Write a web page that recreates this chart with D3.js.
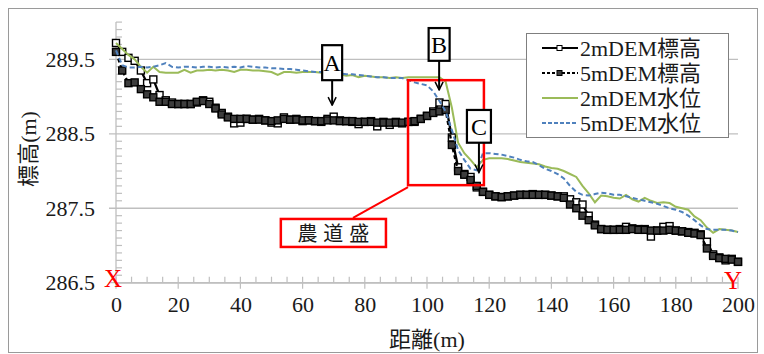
<!DOCTYPE html>
<html>
<head>
<meta charset="utf-8">
<script src="https://cdn.jsdelivr.net/npm/d3@7"></script>
<style>
body { margin: 0; background: #fff; }
text { font-family: "Liberation Serif", "Times New Roman", "Noto Sans CJK JP", serif; }
</style>
</head>
<body>
<div id="chart"></div>
<script>
// distance along the profile (m), every 2 m
const distance = d3.range(0, 201, 2);

// 2mDEM elevation (open squares)
const elev2m = [
	289.72, 289.60, 289.52, 289.48, 289.35, 289.18, 289.23, 289.02, 288.95, 288.92,
	288.90, 288.90, 288.90, 288.92, 288.95, 288.93, 288.85, 288.78, 288.73, 288.64,
	288.65, 288.70, 288.69, 288.70, 288.68, 288.65, 288.64, 288.72, 288.69, 288.70,
	288.67, 288.68, 288.67, 288.66, 288.70, 288.73, 288.68, 288.67, 288.66, 288.63,
	288.66, 288.67, 288.60, 288.66, 288.62, 288.66, 288.64, 288.66, 288.66, 288.70,
	288.74, 288.80, 288.92, 288.90, 288.45, 288.05, 287.96, 287.92, 287.78, 287.72,
	287.68, 287.66, 287.65, 287.66, 287.67, 287.68, 287.68, 287.69, 287.68, 287.68,
	287.67, 287.66, 287.66, 287.62, 287.58, 287.55, 287.40, 287.28, 287.22, 287.21,
	287.21, 287.22, 287.25, 287.23, 287.22, 287.22, 287.12, 287.20, 287.25, 287.26,
	287.20, 287.19, 287.18, 287.17, 287.15, 287.05, 286.88, 286.84, 286.80, 286.82,
	286.78
];

// 5mDEM elevation (filled squares)
const elev5m = [
	289.60, 289.35, 289.18, 289.19, 289.10, 289.03, 288.99, 288.93, 288.93, 288.90,
	288.90, 288.90, 288.90, 288.93, 288.94, 288.90, 288.84, 288.76, 288.72, 288.70,
	288.70, 288.70, 288.69, 288.69, 288.68, 288.67, 288.68, 288.70, 288.69, 288.69,
	288.68, 288.68, 288.67, 288.67, 288.68, 288.68, 288.67, 288.67, 288.67, 288.66,
	288.66, 288.66, 288.65, 288.65, 288.65, 288.65, 288.65, 288.66, 288.67, 288.70,
	288.74, 288.78, 288.80, 288.82, 288.35, 288.00, 287.95, 287.88, 287.80, 287.72,
	287.68, 287.66, 287.65, 287.66, 287.67, 287.68, 287.68, 287.68, 287.68, 287.68,
	287.67, 287.66, 287.64, 287.55, 287.50, 287.40, 287.34, 287.27, 287.22, 287.21,
	287.21, 287.21, 287.21, 287.22, 287.21, 287.21, 287.20, 287.20, 287.20, 287.21,
	287.20, 287.19, 287.17, 287.16, 287.14, 286.96, 286.86, 286.83, 286.82, 286.81,
	286.78
];

// 2mDEM water level (green)
const water2m = [
	289.72, 289.64, 289.56, 289.50, 289.40, 289.32, 289.40, 289.33, 289.32, 289.32,
	289.32, 289.36, 289.32, 289.35, 289.35, 289.36, 289.35, 289.36, 289.35, 289.33,
	289.36, 289.36, 289.35, 289.35, 289.34, 289.33, 289.29, 289.33, 289.33, 289.32,
	289.33, 289.33, 289.33, 289.32, 289.30, 289.31, 289.30, 289.28, 289.29, 289.26,
	289.28, 289.27, 289.26, 289.26, 289.25, 289.26, 289.25, 289.26, 289.26, 289.26,
	289.26, 289.26, 289.26, 289.20, 288.85, 288.38, 288.24, 288.15, 288.05, 288.15,
	288.17, 288.17, 288.17, 288.16, 288.14, 288.12, 288.11, 288.10, 288.09, 288.06,
	288.04, 288.03, 288.00, 287.96, 287.92, 287.80, 287.70, 287.58, 287.67, 287.66,
	287.64, 287.63, 287.68, 287.62, 287.59, 287.64, 287.60, 287.57, 287.58, 287.57,
	287.52, 287.50, 287.48, 287.39, 287.34, 287.24, 287.17, 287.22, 287.21, 287.20,
	287.18
];

// 5mDEM water level (blue dashed)
const water5m = [
	289.62, 289.42, 289.39, 289.39, 289.40, 289.39, 289.40, 289.42, 289.45, 289.40,
	289.39, 289.40, 289.40, 289.39, 289.40, 289.40, 289.39, 289.40, 289.39, 289.40,
	289.39, 289.41, 289.40, 289.39, 289.39, 289.38, 289.38, 289.37, 289.37, 289.36,
	289.35, 289.34, 289.33, 289.33, 289.32, 289.31, 289.31, 289.30, 289.30, 289.29,
	289.28, 289.27, 289.26, 289.26, 289.25, 289.25, 289.25, 289.22, 289.19, 289.17,
	289.15, 289.07, 288.94, 288.80, 288.55, 288.28, 288.15, 288.03, 288.01, 288.24,
	288.24, 288.23, 288.22, 288.20, 288.18, 288.15, 288.13, 288.12, 288.08, 288.03,
	288.00, 287.96, 287.90, 287.80, 287.72, 287.68, 287.67, 287.69, 287.71, 287.70,
	287.68, 287.68, 287.66, 287.64, 287.62, 287.60, 287.58, 287.56, 287.53, 287.50,
	287.48, 287.45, 287.40, 287.34, 287.27, 287.22, 287.21, 287.21, 287.21, 287.20,
	287.18
];

const seriesNames = ["2mDEM標高", "5mDEM標高", "2mDEM水位", "5mDEM水位"];
const xTicks = [0, 20, 40, 60, 80, 100, 120, 140, 160, 180, 200];
const yTicks = [286.5, 287.5, 288.5, 289.5];

const svg = d3.select("#chart").append("svg")
	.attr("width", 764)
	.attr("height", 354);

// outer frame
svg.append("rect")
	.attr("x", 8.5).attr("y", 8.5)
	.attr("width", 749).attr("height", 344)
	.attr("fill", "#fff")
	.attr("stroke", "#9a9a9a");

const x = d3.scaleLinear().domain([0, 200]).range([116, 738]);
const y = d3.scaleLinear().domain([286.5, 290]).range([282.7, 22.1]);

const grey = "#bfbfbf";

// horizontal grid
svg.append("g")
	.selectAll("line")
	.data(yTicks)
	.join("line")
	.attr("x1", x(0) - 7).attr("x2", x(200))
	.attr("y1", (d) => y(d)).attr("y2", (d) => y(d))
	.attr("stroke", grey).attr("stroke-width", 1.3);

// y minor ticks (inside)
const yMinor = d3.range(0, 36).map((i) => 286.5 + i * 0.1).filter((v, i) => i % 10 !== 0);
svg.append("g")
	.selectAll("line")
	.data(yMinor)
	.join("line")
	.attr("x1", x(0)).attr("x2", x(0) + 6)
	.attr("y1", (d) => y(d)).attr("y2", (d) => y(d))
	.attr("stroke", grey).attr("stroke-width", 1.2);

// y axis line
svg.append("line")
	.attr("x1", x(0)).attr("x2", x(0))
	.attr("y1", y(290)).attr("y2", y(286.5))
	.attr("stroke", grey).attr("stroke-width", 1.3);

// y tick labels
svg.append("g")
	.selectAll("text")
	.data(yTicks)
	.join("text")
	.attr("x", 95)
	.attr("y", (d) => y(d))
	.attr("dy", "0.35em")
	.attr("text-anchor", "end")
	.attr("font-size", 22)
	.attr("fill", "#1a1a1a")
	.text((d) => d.toFixed(1));

// x axis with ticks
const xAxis = d3.axisBottom(x)
	.tickValues(xTicks)
	.tickSize(0)
	.tickPadding(14)
	.tickFormat(d3.format("d"));

const xg = svg.append("g")
	.attr("transform", `translate(0,${y(286.5)})`)
	.call(xAxis);
xg.select(".domain").attr("stroke", grey).attr("stroke-width", 1.3);
xg.selectAll("text")
	.attr("font-size", 22)
	.attr("fill", "#1a1a1a");

const xMinor = d3.range(5, 200, 5).filter((v) => v % 20 !== 0);
svg.append("g")
	.selectAll("line")
	.data(xMinor)
	.join("line")
	.attr("x1", (d) => x(d)).attr("x2", (d) => x(d))
	.attr("y1", y(286.5) - 6).attr("y2", y(286.5))
	.attr("stroke", grey).attr("stroke-width", 1.2);
svg.append("g")
	.selectAll("line")
	.data(xTicks)
	.join("line")
	.attr("x1", (d) => x(d)).attr("x2", (d) => x(d))
	.attr("y1", y(286.5) - 6).attr("y2", y(286.5) + 6)
	.attr("stroke", grey).attr("stroke-width", 1.2);

// axis titles
svg.append("text")
	.attr("x", 427).attr("y", 347)
	.attr("text-anchor", "middle")
	.attr("font-size", 22)
	.attr("fill", "#1a1a1a")
	.text("距離(m)");

svg.append("text")
	.attr("transform", "translate(36,149) rotate(-90)")
	.attr("text-anchor", "middle")
	.attr("font-size", 22)
	.attr("fill", "#1a1a1a")
	.text("標高(m)");

// series
const rows = distance.map((d, i) => ({
	d,
	e2: elev2m[i],
	e5: elev5m[i],
	w2: water2m[i],
	w5: water5m[i],
}));

const lineOf = (key) => d3.line().x((r) => x(r.d)).y((r) => y(r[key]));
const ms = 7;

// 2mDEM elevation
svg.append("path")
	.attr("d", lineOf("e2")(rows))
	.attr("fill", "none")
	.attr("stroke", "#000")
	.attr("stroke-width", 2.3);
svg.append("g")
	.selectAll("rect")
	.data(rows)
	.join("rect")
	.attr("x", (r) => x(r.d) - ms / 2)
	.attr("y", (r) => y(r.e2) - ms / 2)
	.attr("width", ms).attr("height", ms)
	.attr("fill", "#fff")
	.attr("stroke", "#000")
	.attr("stroke-width", 1.4);

// 5mDEM elevation
svg.append("path")
	.attr("d", lineOf("e5")(rows))
	.attr("fill", "none")
	.attr("stroke", "#000")
	.attr("stroke-width", 2.3)
	.attr("stroke-dasharray", "4,3");
svg.append("g")
	.selectAll("rect")
	.data(rows)
	.join("rect")
	.attr("x", (r) => x(r.d) - ms / 2)
	.attr("y", (r) => y(r.e5) - ms / 2)
	.attr("width", ms).attr("height", ms)
	.attr("fill", "#3d3d3d")
	.attr("stroke", "#000")
	.attr("stroke-width", 1.4);

// water levels
svg.append("path")
	.attr("d", lineOf("w2")(rows))
	.attr("fill", "none")
	.attr("stroke", "#9bbb59")
	.attr("stroke-width", 2);
svg.append("path")
	.attr("d", lineOf("w5")(rows))
	.attr("fill", "none")
	.attr("stroke", "#4f81bd")
	.attr("stroke-width", 2)
	.attr("stroke-dasharray", "5,3");

// legend
const legend = svg.append("g");
legend.append("rect")
	.attr("x", 526.5).attr("y", 33.5)
	.attr("width", 202).attr("height", 104)
	.attr("fill", "#fff")
	.attr("stroke", "#7f7f7f");

const legendStyles = [
	{ stroke: "#000", dash: null, marker: "#fff" },
	{ stroke: "#000", dash: "3,2", marker: "#3d3d3d" },
	{ stroke: "#9bbb59", dash: null, marker: null },
	{ stroke: "#4f81bd", dash: "4,2", marker: null },
];

seriesNames.forEach((name, i) => {
	const ly = 48 + i * 25;
	const st = legendStyles[i];
	legend.append("line")
		.attr("x1", 542).attr("x2", 578)
		.attr("y1", ly).attr("y2", ly)
		.attr("stroke", st.stroke)
		.attr("stroke-width", 2)
		.attr("stroke-dasharray", st.dash);
	if (st.marker) {
		legend.append("rect")
			.attr("x", 557).attr("y", ly - 2.5)
			.attr("width", 5).attr("height", 5)
			.attr("fill", st.marker)
			.attr("stroke", "#000");
	}
	legend.append("text")
		.attr("x", 580).attr("y", ly)
		.attr("dy", "0.35em")
		.attr("font-size", 22)
		.attr("fill", "#1a1a1a")
		.text(name);
});

// red box around farm road embankment
svg.append("rect")
	.attr("x", x(93.9)).attr("y", y(289.22))
	.attr("width", x(118.3) - x(93.9))
	.attr("height", y(287.81) - y(289.22))
	.attr("fill", "none")
	.attr("stroke", "#ff0000")
	.attr("stroke-width", 2.5);

svg.append("line")
	.attr("x1", x(93.9)).attr("y1", y(287.785))
	.attr("x2", x(76.2)).attr("y2", y(287.37))
	.attr("stroke", "#ff0000")
	.attr("stroke-width", 2);

svg.append("rect")
	.attr("x", x(53)).attr("y", y(287.356))
	.attr("width", x(86.8) - x(53))
	.attr("height", y(286.98) - y(287.356))
	.attr("fill", "#fff")
	.attr("stroke", "#ff0000")
	.attr("stroke-width", 2.5);

svg.append("text")
	.attr("x", (x(53) + x(86.8)) / 2 + 3)
	.attr("y", (y(287.356) + y(286.98)) / 2)
	.attr("dy", "0.4em")
	.attr("text-anchor", "middle")
	.attr("font-size", 20)
	.attr("letter-spacing", 6)
	.attr("fill", "#1a1a1a")
	.text("農道盛");

// arrow marker
svg.append("defs").append("marker")
	.attr("id", "arrow")
	.attr("viewBox", "0 0 10 10")
	.attr("refX", 9).attr("refY", 5)
	.attr("markerWidth", 5).attr("markerHeight", 5)
	.attr("markerUnits", "strokeWidth")
	.attr("orient", "auto")
	.append("path")
	.attr("d", "M1,1 L9,5 L1,9")
	.attr("fill", "none")
	.attr("stroke", "#000")
	.attr("stroke-width", 1.5);

// point labels A, B, C
const callouts = [
	{ label: "A", x: 69.5, top: 289.69, bottom: 289.22, tip: 288.885, w: 20 },
	{ label: "B", x: 103.9, top: 289.92, bottom: 289.48, tip: 289.09, w: 21 },
	{ label: "C", x: 116.7, top: 288.82, bottom: 288.38, tip: 287.98, w: 24 },
];

callouts.forEach((c) => {
	const cx = x(c.x);
	svg.append("line")
		.attr("x1", cx).attr("x2", cx)
		.attr("y1", y(c.bottom)).attr("y2", y(c.tip))
		.attr("stroke", "#000")
		.attr("stroke-width", 2)
		.attr("marker-end", "url(#arrow)");
	svg.append("rect")
		.attr("x", cx - c.w / 2).attr("y", y(c.top))
		.attr("width", c.w)
		.attr("height", y(c.bottom) - y(c.top))
		.attr("fill", "#fff")
		.attr("stroke", "#000")
		.attr("stroke-width", 2.2);
	svg.append("text")
		.attr("x", cx)
		.attr("y", (y(c.top) + y(c.bottom)) / 2)
		.attr("dy", "0.36em")
		.attr("text-anchor", "middle")
		.attr("font-size", 24)
		.attr("fill", "#000")
		.text(c.label);
});

// end markers X, Y
svg.append("text")
	.attr("x", x(0) - 3).attr("y", y(286.5) + 4)
	.attr("text-anchor", "middle")
	.attr("font-size", 25)
	.attr("fill", "#ff0000")
	.text("X");
svg.append("text")
	.attr("x", x(200) - 5).attr("y", y(286.5) + 6)
	.attr("text-anchor", "middle")
	.attr("font-size", 25)
	.attr("fill", "#ff0000")
	.text("Y");
</script>
</body>
</html>
